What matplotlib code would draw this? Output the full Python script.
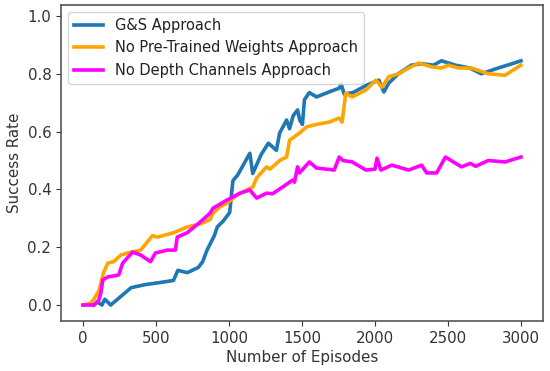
import matplotlib
matplotlib.use("Agg")
import matplotlib.pyplot as plt

# G&S Approach
gs_x = [75, 100, 130, 150, 190, 260, 330, 420, 530, 620, 650, 715, 790, 820, 850, 900, 920,
        960, 1005, 1027, 1060, 1143, 1163, 1220, 1270, 1325, 1347, 1395, 1415, 1440, 1470,
        1485, 1503, 1517, 1550, 1600, 1700, 1755, 1769, 1789, 1850, 1940, 2027, 2061, 2095,
        2160, 2250, 2320, 2400, 2456, 2550, 2650, 2728, 2844, 2940, 3000]
gs_y = [0.0, 0.01, 0.0, 0.02, 0.0, 0.03, 0.06, 0.07, 0.078, 0.085, 0.12, 0.112, 0.13, 0.15,
        0.19, 0.24, 0.27, 0.29, 0.32, 0.43, 0.45, 0.525, 0.455, 0.52, 0.56, 0.535, 0.595,
        0.64, 0.61, 0.655, 0.675, 0.64, 0.625, 0.71, 0.735, 0.72, 0.74, 0.75, 0.765, 0.73,
        0.735, 0.76, 0.778, 0.737, 0.768, 0.80, 0.83, 0.835, 0.83, 0.845, 0.83, 0.82, 0.80,
        0.82, 0.835, 0.845]

# No Pre-Trained Weights Approach
npt_x = [0, 50, 75, 110, 140, 170, 210, 260, 306, 395, 476, 510, 620, 714, 800, 870, 891,
         940, 986, 1054, 1122, 1163, 1190, 1258, 1280, 1299, 1347, 1395, 1415, 1483, 1530,
         1600, 1687, 1755, 1775, 1800, 1844, 1938, 2007, 2048, 2095, 2163, 2231, 2300, 2388,
         2456, 2503, 2571, 2660, 2776, 2891, 3000]
npt_y = [0.0, 0.005, 0.02, 0.05, 0.11, 0.145, 0.15, 0.173, 0.18, 0.19, 0.24, 0.235, 0.25,
         0.27, 0.28, 0.295, 0.318, 0.34, 0.352, 0.38, 0.398, 0.408, 0.44, 0.478, 0.47, 0.478,
         0.50, 0.512, 0.57, 0.595, 0.616, 0.625, 0.633, 0.647, 0.633, 0.733, 0.72, 0.744,
         0.778, 0.754, 0.79, 0.80, 0.82, 0.837, 0.824, 0.82, 0.83, 0.82, 0.82, 0.80, 0.795,
         0.83]

# No Depth Channels Approach
nd_x = [0, 75, 109, 122, 136, 170, 245, 272, 340, 395, 463, 496, 578, 633, 646, 714, 803,
        871, 891, 986, 1075, 1143, 1190, 1258, 1299, 1367, 1435, 1449, 1470, 1483, 1551,
        1599, 1721, 1755, 1780, 1844, 1938, 2000, 2014, 2041, 2116, 2231, 2320, 2354, 2422,
        2483, 2592, 2653, 2690, 2776, 2891, 3000]
nd_y = [0.0, 0.0, 0.017, 0.04, 0.087, 0.097, 0.104, 0.145, 0.183, 0.173, 0.15, 0.18, 0.19,
        0.19, 0.235, 0.25, 0.287, 0.318, 0.335, 0.363, 0.387, 0.398, 0.37, 0.387, 0.385,
        0.408, 0.432, 0.425, 0.478, 0.457, 0.495, 0.474, 0.467, 0.512, 0.50, 0.495, 0.467,
        0.47, 0.508, 0.467, 0.484, 0.467, 0.484, 0.457, 0.457, 0.512, 0.478, 0.49, 0.48,
        0.50, 0.495, 0.512]

labels = ["G&S Approach", "No Pre-Trained Weights Approach", "No Depth Channels Approach"]
colors = ["#1f77b4", "#ffa500", "#ff00ff"]
x_ticks = [0, 500, 1000, 1500, 2000, 2500, 3000]
y_ticks = [0.0, 0.2, 0.4, 0.6, 0.8, 1.0]

fig = plt.figure(figsize=(5.5, 3.71), dpi=100)
ax = fig.add_axes([0.111, 0.135, 0.876, 0.8515])
ax.plot(gs_x, gs_y, color=colors[0], lw=2.6, label=labels[0])
ax.plot(npt_x, npt_y, color=colors[1], lw=2.6, label=labels[1])
ax.plot(nd_x, nd_y, color=colors[2], lw=2.6, label=labels[2])

ax.set_xlim(-150, 3150)
ax.set_ylim(-0.055, 1.038)
ax.set_xticks(x_ticks)
ax.set_yticks(y_ticks)
ax.set_yticklabels([f"{v:.1f}" for v in y_ticks])
ax.tick_params(labelsize=10.8, colors="#333333", labelcolor="#333333")
ax.set_xlabel("Number of Episodes", fontsize=10.9, color="#333333", labelpad=3)
ax.set_ylabel("Success Rate", fontsize=10.9, color="#333333")
for s in ax.spines.values():
    s.set_color("#555555")
    s.set_linewidth(1.2)
ax.legend(loc="upper left", fontsize=10.5, framealpha=0.8, handlelength=2.0,
          labelcolor="#222222")
fig.savefig("out.png", dpi=100)
